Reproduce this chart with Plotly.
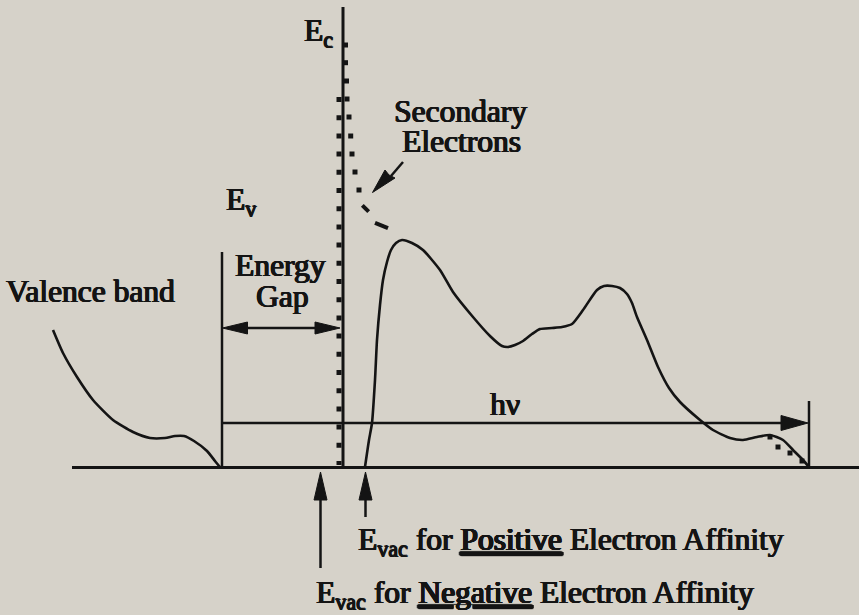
import math
import plotly.graph_objects as go

# ---- data (pixel-space schematic coordinates) ----
valence_x = [53, 63, 77, 93, 113, 133, 150, 165, 175, 184, 194, 207, 215, 220]
valence_y = [330, 353, 377, 400, 420, 432, 438, 438, 436, 436, 441, 451, 461, 467]

spectrum_x = [365, 369, 372, 375, 377, 380, 383, 387, 391, 396, 402, 412, 423, 440, 453,
              473, 490, 502, 508, 515, 523, 532, 540, 552, 562, 572, 583, 597, 604, 612,
              620, 627, 632, 637, 647, 658, 669, 680, 700, 713, 730, 743, 757, 770, 783,
              793, 803, 809]
spectrum_y = [467, 440, 423, 380, 340, 305, 280, 262, 250, 243, 240, 243, 250, 270, 292,
              317, 336, 346, 347, 345, 341, 334, 329, 328, 327, 324, 310, 290, 286, 286,
              288, 294, 303, 317, 340, 367, 388, 402, 420, 430, 438, 440, 437, 435, 440,
              450, 460, 467]

tail_x = [770, 778, 790, 802]
tail_y = [437, 447, 453, 461]

secondary_x = [345.5, 345.5, 346.5, 347, 349, 350.7, 352, 355, 359]
secondary_y = [45, 62.7, 81, 99, 117, 136, 154, 172, 190]
secondary_dash_c = [(365.5, 208.5), (381.5, 225.5)]
secondary_dash_ang = [45, 22]
secondary_dash_len = [9, 14]

ink = "#141414"
bg = "rgb(214,210,201)"
font_family = "Liberation Serif"
fs = 31.5
# heavy stroke built from text shadows, giving the serif face a bold look
heavy = ", ".join(f"{dx}px {dy}px 0 {ink}" for dx, dy in
                  [(0.8, 0), (-0.6, 0), (0.4, 0.3), (-0.3, -0.3)])

fig = go.Figure()


def line(xs, ys, w=2.2, dash=None, shape="linear"):
    fig.add_trace(go.Scatter(x=xs, y=ys, mode="lines",
                             line=dict(color=ink, width=w, dash=dash, shape=shape,
                                       smoothing=0.6),
                             hoverinfo="skip", showlegend=False))


def arrowhead(tip, direction, length, half):
    dx, dy = direction
    n = math.hypot(dx, dy)
    ux, uy = dx / n, dy / n
    bx, by = tip[0] - ux * length, tip[1] - uy * length
    px, py = -uy, ux
    xs = [tip[0], bx + px * half, bx - px * half, tip[0]]
    ys = [tip[1], by + py * half, by - py * half, tip[1]]
    fig.add_trace(go.Scatter(x=xs, y=ys, mode="lines", fill="toself",
                             fillcolor=ink, line=dict(color=ink, width=1),
                             hoverinfo="skip", showlegend=False))


# baseline and frame lines
line([72, 859], [467.5, 467.5], w=3)
line([343, 343], [7, 468], w=3)
line([222, 222], [252, 468], w=2.5)
line([809, 809], [401, 468], w=2.5)

# conduction band edge (dotted column)
line([339, 339], [97, 465], w=5, dash="5px,13.2px")

# spectra
line(valence_x, valence_y, w=2.6, shape="spline")
line(spectrum_x, spectrum_y, w=2.6, shape="spline")

# secondary electron tail (dots + dashes)
fig.add_trace(go.Scatter(x=secondary_x, y=secondary_y, mode="markers",
                         marker=dict(symbol="square", size=5, color=ink),
                         hoverinfo="skip", showlegend=False))
for (cx, cy), a, L in zip(secondary_dash_c, secondary_dash_ang, secondary_dash_len):
    ca, sa = math.cos(math.radians(a)), math.sin(math.radians(a))
    line([cx - ca * L / 2, cx + ca * L / 2], [cy - sa * L / 2, cy + sa * L / 2], w=4)

fig.add_trace(go.Scatter(x=tail_x, y=tail_y, mode="markers",
                         marker=dict(symbol="square", size=5, color=ink),
                         hoverinfo="skip", showlegend=False))

# energy gap double arrow
line([235, 328], [328, 328], w=2.5)
arrowhead((222.5, 328), (-1, 0), 25, 6)
arrowhead((340, 328), (1, 0), 25, 6)

# h-nu arrow
line([222, 785], [423, 423], w=2.5)
arrowhead((808, 423), (1, 0), 27, 7.5)

# E_vac arrows
line([320.5, 320.5], [495, 568], w=2.5)
arrowhead((320.5, 472), (0, -1), 28, 6.5)
line([365.5, 365.5], [495, 517], w=2.5)
arrowhead((365.5, 472), (0, -1), 28, 6.5)

# secondary electrons pointer (bolt-shaped arrow)
line([403, 391], [162, 176], w=2.5)
bolt_x = [372.5, 385, 389, 395, 372.5]
bolt_y = [192.5, 170, 175, 178, 192.5]
fig.add_trace(go.Scatter(x=bolt_x, y=bolt_y, mode="lines", fill="toself",
                         fillcolor=ink, line=dict(color=ink, width=1),
                         hoverinfo="skip", showlegend=False))


def label(text, x, y, anchor="left", size=fs):
    fig.add_annotation(x=x, y=y, xref="x", yref="y", text=text, showarrow=False,
                       xanchor=anchor, yanchor="middle",
                       font=dict(family=font_family, size=size, color=ink, shadow=heavy))


label("E<sub>c</sub>", 302, 33)
label("E<sub>v</sub>", 224, 202)
label("Energy", 280, 265.5, anchor="center")
label("Gap", 282, 296, anchor="center")
label("Secondary", 460, 111, anchor="center")
label("Electrons", 461, 141, anchor="center")
label("Valence band", 4, 291)
label("hν", 505, 404, anchor="center")
label("E<sub>vac</sub> for <u>Positive</u> Electron Affinity", 356, 542)
label("E<sub>vac</sub> for <u>Negative</u> Electron Affinity", 314, 595)

fig.update_layout(
    width=859, height=615,
    margin=dict(l=0, r=0, t=0, b=0),
    paper_bgcolor=bg, plot_bgcolor=bg,
    xaxis=dict(range=[0, 859], visible=False, fixedrange=True),
    yaxis=dict(range=[615, 0], visible=False, fixedrange=True),
    showlegend=False,
)

fig.write_html("out.html")
